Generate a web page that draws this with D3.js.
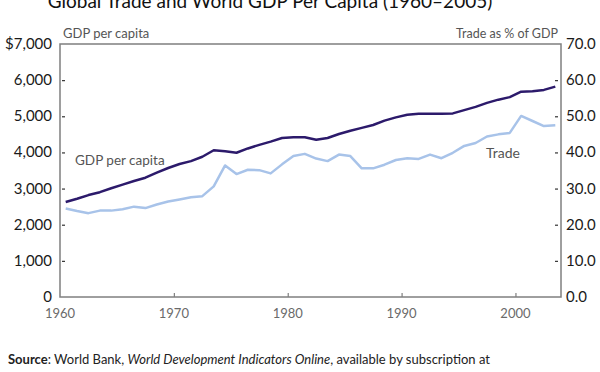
<!DOCTYPE html>
<html>
<head>
<meta charset="utf-8">
<script src="https://cdn.jsdelivr.net/npm/d3@7"></script>
<style>
    body { margin: 0; background: #fff; }
    svg { display: block; font-family: Lato, "Open Sans", sans-serif; }
</style>
</head>
<body>
<div id="chart"></div>
<script>

    //Chart data
    var years = [1960, 1961, 1962, 1963, 1964, 1965, 1966, 1967, 1968, 1969,
        1970, 1971, 1972, 1973, 1974, 1975, 1976, 1977, 1978, 1979,
        1980, 1981, 1982, 1983, 1984, 1985, 1986, 1987, 1988, 1989,
        1990, 1991, 1992, 1993, 1994, 1995, 1996, 1997, 1998, 1999,
        2000, 2001, 2002, 2003];

    var gdpPerCapita = [2630, 2720, 2820, 2900, 3010, 3110, 3210, 3300, 3440, 3570,
        3680, 3760, 3880, 4060, 4030, 3990, 4110, 4210, 4300, 4400,
        4420, 4420, 4350, 4400, 4510, 4600, 4680, 4760, 4880, 4970,
        5040, 5070, 5070, 5070, 5080, 5170, 5260, 5370, 5460, 5530,
        5680, 5690, 5730, 5820];

    var tradePct = [24.5, 23.8, 23.2, 23.9, 23.9, 24.3, 25.0, 24.6, 25.6, 26.4,
        27.0, 27.6, 27.9, 30.6, 36.4, 34.0, 35.2, 35.1, 34.2, 36.7,
        39.0, 39.6, 38.3, 37.6, 39.4, 39.0, 35.6, 35.6, 36.6, 37.9,
        38.4, 38.2, 39.4, 38.4, 39.9, 41.8, 42.6, 44.4, 45.0, 45.4,
        50.1, 48.7, 47.3, 47.5];

    var xTicks = [1960, 1970, 1980, 1990, 2000];
    var gdpTicks = [0, 1000, 2000, 3000, 4000, 5000, 6000, 7000];
    var tradeTicks = [0, 10, 20, 30, 40, 50, 60, 70];

    (function (d3) {

        "use strict";

        var width = 600, height = 372;
        var margin = { top: 44, right: 39, bottom: 75, left: 60 };

        var darkColour = "#2c1a6b";
        var lightColour = "#a8c3e9";
        var axisColour = "#7f7f7f";

        var svg = d3.select("#chart").append("svg")
            .attr("width", width)
            .attr("height", height);

        var x = d3.scaleLinear()
            .domain([1960, 2004])
            .range([margin.left, width - margin.right]);

        var yGdp = d3.scaleLinear()
            .domain([0, 7000])
            .range([height - margin.bottom, margin.top]);

        var yTrade = d3.scaleLinear()
            .domain([0, 70])
            .range([height - margin.bottom, margin.top]);

        //Title - only its lower part shows, as in the original crop
        svg.append("text")
            .attr("x", 270)
            .attr("y", 8)
            .attr("text-anchor", "middle")
            .style("font-size", "19px")
            .style("fill", "#111")
            .text("Global Trade and World GDP Per Capita (1960\u20132005)");

        //Inner ticks, left axis
        svg.append("g")
            .attr("transform", "translate(" + (margin.left + 5) + ",0)")
            .call(d3.axisLeft(yGdp).tickValues(gdpTicks.slice(1, -1)).tickSize(3).tickFormat(""))
            .call(function (g) { g.select(".domain").remove(); })
            .selectAll("line").attr("stroke", "#333").attr("stroke-width", 1.2);

        //Inner ticks, right axis
        svg.append("g")
            .attr("transform", "translate(" + (width - margin.right - 3) + ",0)")
            .call(d3.axisLeft(yTrade).tickValues(tradeTicks.slice(1, -1)).tickSize(3).tickFormat(""))
            .call(function (g) { g.select(".domain").remove(); })
            .selectAll("line").attr("stroke", "#333").attr("stroke-width", 1.2);

        //X ticks point up into the plot
        svg.append("g")
            .attr("transform", "translate(0," + (height - margin.bottom) + ")")
            .call(d3.axisTop(x).tickValues(xTicks.slice(1)).tickSize(4).tickFormat(""))
            .call(function (g) { g.select(".domain").remove(); })
            .selectAll("line").attr("stroke", axisColour).attr("stroke-width", 1.2);

        //Tick labels
        svg.append("g").selectAll("text")
            .data(gdpTicks)
            .enter().append("text")
            .attr("x", margin.left - 8)
            .attr("y", function (d) { return yGdp(d) + 5; })
            .attr("text-anchor", "end")
            .style("font-size", "15px")
            .style("fill", "#1a1a1a")
            .text(function (d) { return d === 7000 ? "$7,000" : d3.format(",")(d); });

        svg.append("g").selectAll("text")
            .data(tradeTicks)
            .enter().append("text")
            .attr("x", width - margin.right + 5)
            .attr("y", function (d) { return yTrade(d) + 5; })
            .style("font-size", "15px")
            .style("fill", "#1a1a1a")
            .text(function (d) { return d3.format(".1f")(d); });

        svg.append("g").selectAll("text")
            .data(xTicks)
            .enter().append("text")
            .attr("x", function (d) { return x(d); })
            .attr("y", height - margin.bottom + 21)
            .attr("text-anchor", "middle")
            .style("font-size", "13px")
            .style("fill", "#6a6a6a")
            .text(function (d) { return d; });

        //Lines - values plotted at mid-year
        var gdpLine = d3.line()
            .x(function (d, i) { return x(years[i] + 0.5); })
            .y(function (d) { return yGdp(d); });

        var tradeLine = d3.line()
            .x(function (d, i) { return x(years[i] + 0.5); })
            .y(function (d) { return yTrade(d); });

        svg.append("path")
            .datum(tradePct)
            .attr("d", tradeLine)
            .attr("fill", "none")
            .attr("stroke", lightColour)
            .attr("stroke-width", 2.5)
            .attr("stroke-linejoin", "round");

        svg.append("path")
            .datum(gdpPerCapita)
            .attr("d", gdpLine)
            .attr("fill", "none")
            .attr("stroke", darkColour)
            .attr("stroke-width", 2.5)
            .attr("stroke-linejoin", "round");

        //Frame
        svg.append("rect")
            .attr("x", margin.left)
            .attr("y", margin.top)
            .attr("width", width - margin.left - margin.right)
            .attr("height", height - margin.top - margin.bottom)
            .attr("fill", "none")
            .attr("stroke", axisColour)
            .attr("stroke-width", 1.5);

        //Axis titles
        svg.append("text")
            .attr("x", margin.left + 3)
            .attr("y", 38)
            .style("font-size", "13px")
            .style("fill", "#555")
            .text("GDP per capita");

        svg.append("text")
            .attr("x", width - margin.right - 3)
            .attr("y", 38)
            .attr("text-anchor", "end")
            .style("font-size", "12.5px")
            .style("fill", "#555")
            .text("Trade as % of GDP");

        //Series labels
        svg.append("text")
            .attr("x", 75)
            .attr("y", 165)
            .style("font-size", "13.5px")
            .style("fill", "#555")
            .text("GDP per capita");

        svg.append("text")
            .attr("x", 486)
            .attr("y", 158)
            .style("font-size", "14px")
            .style("fill", "#555")
            .text("Trade");

        //Source line
        var src = svg.append("text")
            .attr("x", 8)
            .attr("y", 364)
            .style("font-size", "13px")
            .style("fill", "#222");
        src.append("tspan").style("font-weight", "bold").text("Source");
        src.append("tspan").text(": World Bank, ");
        src.append("tspan").style("font-style", "italic").text("World Development Indicators Online");
        src.append("tspan").text(", available by subscription at");

    })(d3);

</script>
</body>
</html>
